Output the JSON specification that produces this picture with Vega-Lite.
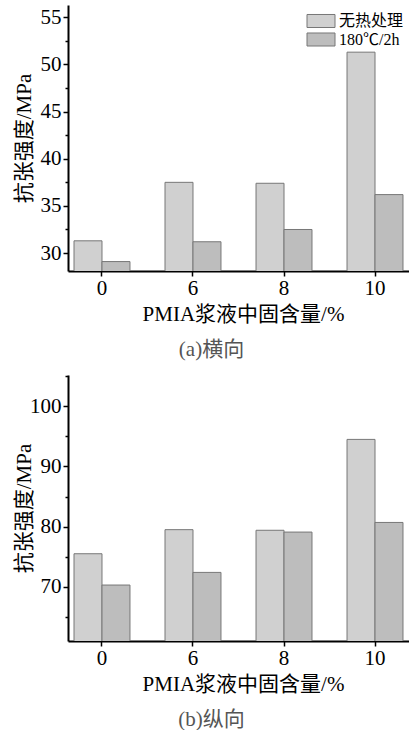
{
  "$schema": "https://vega.github.io/schema/vega-lite/v6.json",
  "background": "white",
  "padding": {"left": 13, "top": 5, "right": 0, "bottom": 0},
  "spacing": 15,
  "config": {
    "view": {"stroke": null},
    "font": "Liberation Serif, Noto Sans CJK SC",
    "axis": {
      "domainColor": "black", "domainWidth": 2, "tickColor": "black", "tickWidth": 1.5,
      "labelColor": "black", "titleColor": "black", "labelFont": "Liberation Serif",
      "labelFontSize": 21, "titleFont": "Liberation Serif, Noto Sans CJK SC",
      "titleFontSize": 21, "titleFontWeight": "normal", "grid": false, "zindex": 1
    },
    "legend": {
      "orient": "none", "legendX": 245, "legendY": 8, "title": null, "padding": 0,
      "symbolType": "M-2,-0.93H2V0.93H-2Z", "symbolSize": 196,
      "symbolStrokeColor": "#777", "symbolStrokeWidth": 1,
      "labelFont": "Liberation Serif, Noto Sans CJK SC", "labelFontSize": 16,
      "labelColor": "black", "labelOffset": 10, "rowPadding": 0.5
    },
    "title": {
      "orient": "bottom", "anchor": "middle", "fontSize": 21, "color": "#555",
      "font": "Liberation Serif, Noto Sans CJK SC", "fontWeight": "normal", "offset": 15, "dx": -27
    }
  },
  "datasets": {
    "a": [
      {"content": "0", "group": "无热处理", "value": 31.3},
      {"content": "0", "group": "180℃/2h", "value": 29.1},
      {"content": "6", "group": "无热处理", "value": 37.5},
      {"content": "6", "group": "180℃/2h", "value": 31.2},
      {"content": "8", "group": "无热处理", "value": 37.4},
      {"content": "8", "group": "180℃/2h", "value": 32.5},
      {"content": "10", "group": "无热处理", "value": 51.3},
      {"content": "10", "group": "180℃/2h", "value": 36.2}
    ],
    "b": [
      {"content": "0", "group": "无热处理", "value": 75.5},
      {"content": "0", "group": "180℃/2h", "value": 70.3},
      {"content": "6", "group": "无热处理", "value": 79.5},
      {"content": "6", "group": "180℃/2h", "value": 72.4},
      {"content": "8", "group": "无热处理", "value": 79.4},
      {"content": "8", "group": "180℃/2h", "value": 79.1},
      {"content": "10", "group": "无热处理", "value": 94.5},
      {"content": "10", "group": "180℃/2h", "value": 80.7}
    ]
  },
  "vconcat": [
    {
      "width": 341, "height": 266,
      "data": {"name": "a"},
      "title": {"text": "(a)横向"},
      "mark": {"type": "bar", "stroke": "#777", "strokeWidth": 1, "clip": true},
      "encoding": {
        "x": {
          "field": "content", "type": "nominal", "sort": ["0", "6", "8", "10"],
          "scale": {"paddingInner": 0.385, "paddingOuter": 0.066},
          "axis": {"labelAngle": 0, "title": "PMIA浆液中固含量/%", "tickSize": 5, "labelPadding": 1, "titlePadding": 5, "titleX": 175}
        },
        "xOffset": {"field": "group", "type": "nominal", "scale": {"domain": ["无热处理", "180℃/2h"], "paddingInner": 0, "paddingOuter": 0}},
        "y": {
          "field": "value", "type": "quantitative",
          "scale": {"domain": [28.1, 56.3], "zero": false, "nice": false},
          "axis": {
            "title": "抗张强度/MPa",
            "values": [30, 32.5, 35, 37.5, 40, 42.5, 45, 47.5, 50, 52.5, 55],
            "labelExpr": "datum.value % 5 === 0 ? datum.label : ''",
            "tickSize": {"condition": {"test": "datum.value % 5 === 0", "value": 5}, "value": 3},
            "labelPadding": 2, "titleX": -34, "titleBaseline": "bottom"
          }
        },
        "color": {
          "field": "group", "type": "nominal",
          "scale": {"domain": ["无热处理", "180℃/2h"], "range": ["#d0d0d0", "#bdbdbd"]}
        }
      }
    },
    {
      "width": 341, "height": 266,
      "data": {"name": "b"},
      "title": {"text": "(b)纵向"},
      "mark": {"type": "bar", "stroke": "#777", "strokeWidth": 1, "clip": true},
      "encoding": {
        "x": {
          "field": "content", "type": "nominal", "sort": ["0", "6", "8", "10"],
          "scale": {"paddingInner": 0.385, "paddingOuter": 0.066},
          "axis": {"labelAngle": 0, "title": "PMIA浆液中固含量/%", "tickSize": 5, "labelPadding": 1, "titlePadding": 5, "titleX": 175}
        },
        "xOffset": {"field": "group", "type": "nominal", "scale": {"domain": ["无热处理", "180℃/2h"], "paddingInner": 0, "paddingOuter": 0}},
        "y": {
          "field": "value", "type": "quantitative",
          "scale": {"domain": [61, 105.2], "zero": false, "nice": false},
          "axis": {
            "title": "抗张强度/MPa",
            "values": [65, 70, 75, 80, 85, 90, 95, 100, 105],
            "labelExpr": "datum.value % 10 === 0 ? datum.label : ''",
            "tickSize": {"condition": {"test": "datum.value % 10 === 0", "value": 5}, "value": 3},
            "labelPadding": 2, "titleX": -34, "titleBaseline": "bottom"
          }
        },
        "color": {
          "field": "group", "type": "nominal",
          "scale": {"domain": ["无热处理", "180℃/2h"], "range": ["#d0d0d0", "#bdbdbd"]}
        }
      }
    }
  ]
}
